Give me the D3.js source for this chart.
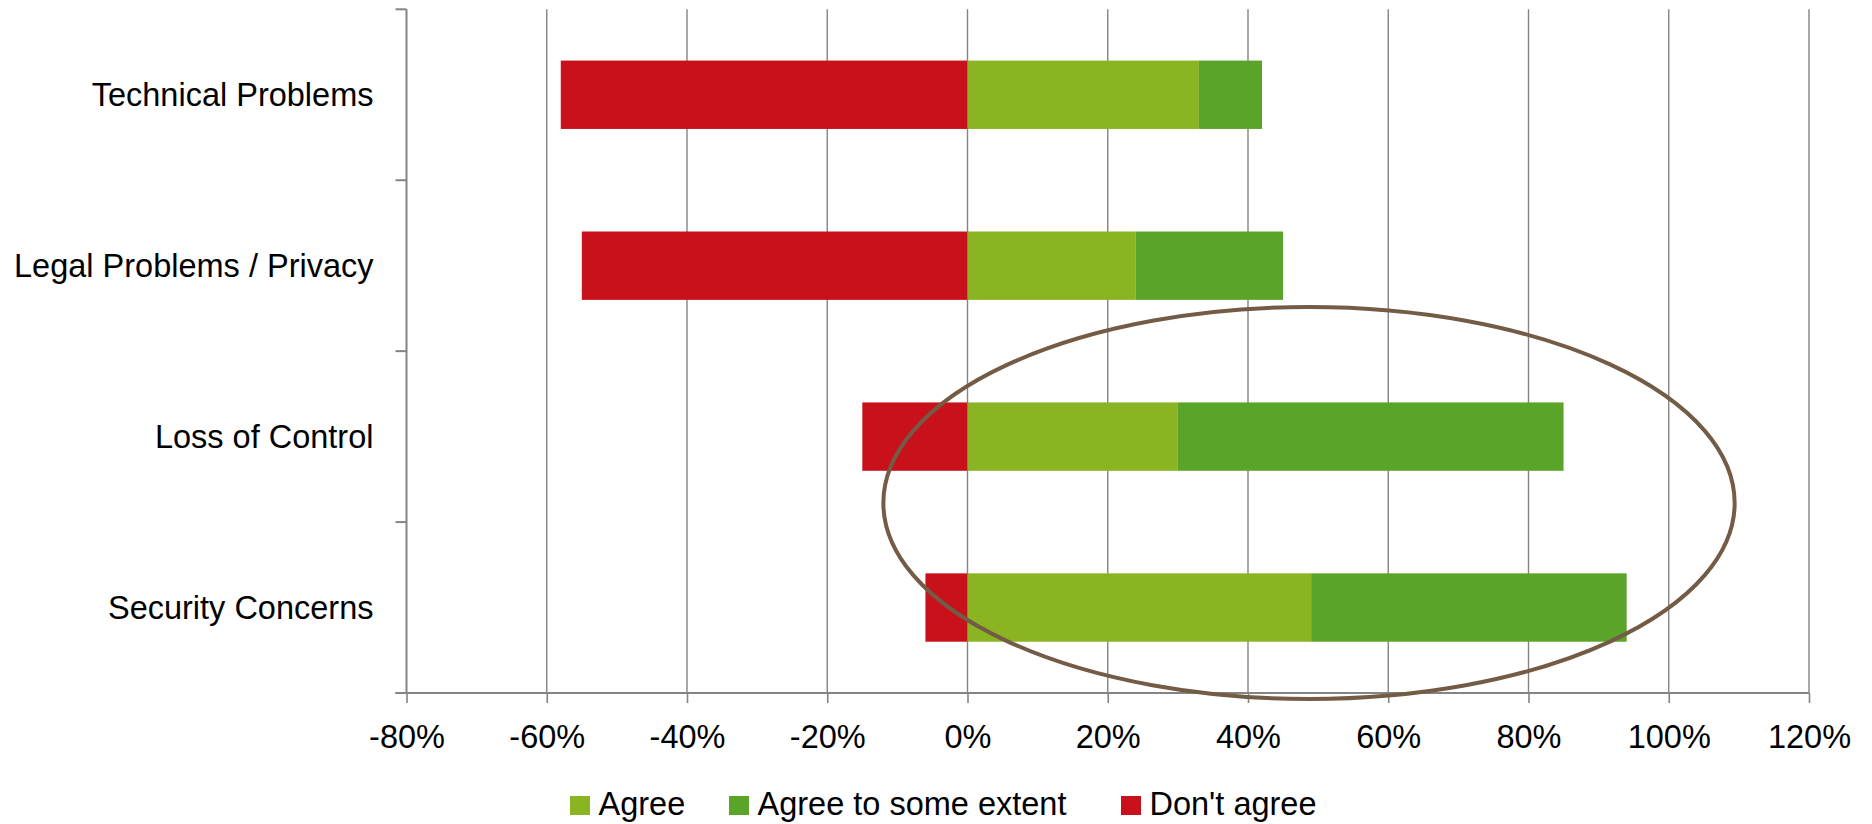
<!DOCTYPE html>
<html>
<head>
<meta charset="utf-8">
<script src="https://cdn.jsdelivr.net/npm/d3@7"></script>
<style>
  html, body { margin: 0; padding: 0; background: #fff; }
  svg { display: block; }
  text { font-family: "Liberation Sans", Arial, sans-serif; fill: #000; }
</style>
</head>
<body>
<svg id="chart" width="1872" height="824"></svg>
<script>
// Survey answers per concern, in percent (Don't agree plotted to the left of 0)
const categories = ["Technical Problems", "Legal Problems / Privacy", "Loss of Control", "Security Concerns"];
const agree = [33, 24, 30, 49];
const agreeSomeExtent = [9, 21, 55, 45];
const dontAgree = [58, 55, 15, 6];
const xTicks = [-80, -60, -40, -20, 0, 20, 40, 60, 80, 100, 120];
const seriesNames = ["Agree", "Agree to some extent", "Don't agree"];
const seriesColors = ["#8ab422", "#5ba42a", "#c8111a"];

const svg = d3.select("#chart");
const margin = { left: 406.5, right: 1872 - 1809, top: 9.3, bottom: 824 - 693 };
const W = 1872, H = 824;

const x = d3.scaleLinear().domain([-80, 120]).range([margin.left, W - margin.right]);
const y = d3.scaleBand().domain(categories).range([margin.top, H - margin.bottom]).paddingInner(0.6).paddingOuter(0.3);
const yOuter = d3.scaleBand().domain(categories).range([margin.top, H - margin.bottom]);

const axisColor = "#848484";

// vertical gridlines
svg.append("g")
  .selectAll("line")
  .data(xTicks.filter(t => t !== -80))
  .join("line")
  .attr("x1", d => x(d)).attr("x2", d => x(d))
  .attr("y1", margin.top).attr("y2", H - margin.bottom)
  .attr("stroke", axisColor).attr("stroke-width", 1.4);

// stacked bars
const rows = categories.map((c, i) => ({ c, a: agree[i], s: agreeSomeExtent[i], d: dontAgree[i] }));
const bars = svg.append("g");
rows.forEach(r => {
  const segs = [
    { x0: -r.d, x1: 0, color: seriesColors[2] },
    { x0: 0, x1: r.a, color: seriesColors[0] },
    { x0: r.a, x1: r.a + r.s, color: seriesColors[1] }
  ];
  bars.selectAll(null)
    .data(segs)
    .join("rect")
    .attr("x", d => x(d.x0))
    .attr("width", d => x(d.x1) - x(d.x0))
    .attr("y", y(r.c))
    .attr("height", y.bandwidth())
    .attr("fill", d => d.color);
});

// left (category) axis with ticks on band boundaries
const yAxis = svg.append("g");
yAxis.append("line")
  .attr("x1", margin.left).attr("x2", margin.left)
  .attr("y1", margin.top).attr("y2", H - margin.bottom)
  .attr("stroke", axisColor).attr("stroke-width", 2);
const bounds = categories.map(c => yOuter(c)).concat([H - margin.bottom]);
yAxis.selectAll("line.tick")
  .data(bounds)
  .join("line")
  .attr("class", "tick")
  .attr("x1", margin.left - 11).attr("x2", margin.left)
  .attr("y1", d => d).attr("y2", d => d)
  .attr("stroke", axisColor).attr("stroke-width", 2);
yAxis.selectAll("text")
  .data(categories)
  .join("text")
  .attr("x", margin.left - 33)
  .attr("y", d => yOuter(d) + yOuter.bandwidth() / 2)
  .attr("dy", "0.35em")
  .attr("text-anchor", "end")
  .attr("font-size", 32.5)
  .text(d => d);

// bottom (value) axis
const xAxis = d3.axisBottom(x)
  .tickValues(xTicks)
  .tickFormat(d => d + "%")
  .tickSize(10)
  .tickPadding(22);
const gx = svg.append("g")
  .attr("transform", `translate(0,${H - margin.bottom})`)
  .call(xAxis);
gx.select(".domain").attr("stroke", axisColor).attr("stroke-width", 2.2)
  .attr("d", `M${margin.left - 11},0H${x(120)}`);
gx.selectAll(".tick line").attr("stroke", axisColor).attr("stroke-width", 1.6);
gx.selectAll(".tick text")
  .attr("font-size", 32.5)
  .attr("font-family", "'Liberation Sans', Arial, sans-serif")
  .attr("fill", "#000");

// emphasis ellipse around the two lower concerns
svg.append("ellipse")
  .attr("cx", x(48.7))
  .attr("cy", 503)
  .attr("rx", x(60.7) - x(0))
  .attr("ry", 196)
  .attr("fill", "none")
  .attr("stroke", "#735b46")
  .attr("stroke-width", 4);

// legend
const legendItems = [
  { name: seriesNames[0], color: seriesColors[0], x: 570 },
  { name: seriesNames[1], color: seriesColors[1], x: 729 },
  { name: seriesNames[2], color: seriesColors[2], x: 1121 }
];
const lg = svg.append("g");
legendItems.forEach(it => {
  lg.append("rect").attr("x", it.x).attr("y", 796).attr("width", 20).attr("height", 19).attr("fill", it.color);
  lg.append("text").attr("x", it.x + 28.5).attr("y", 815).attr("font-size", 32.5).text(it.name);
});
</script>
</body>
</html>
